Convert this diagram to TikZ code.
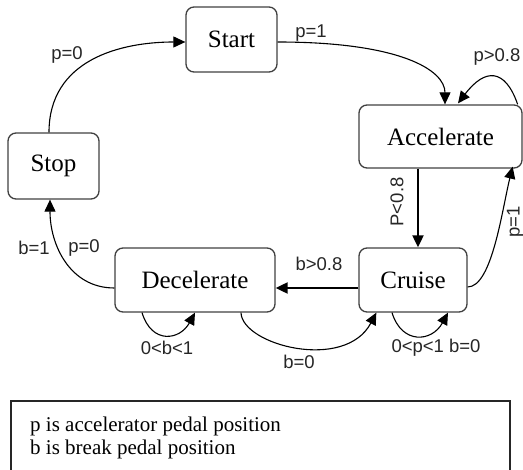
\documentclass[tikz,border=0pt]{standalone}
\usepackage{fontspec}
\setmainfont{Liberation Serif}
\newfontfamily\lab{Liberation Sans}
\usetikzlibrary{arrows.meta,calc}
\begin{document}
\begin{tikzpicture}[x=1pt,y=-1pt,
  state/.style={draw=black!75, line width=1.3pt, rounded corners=8pt,
    font=\fontsize{25}{30}\selectfont, inner sep=0pt},
  lbl/.style={font=\lab\fontsize{18.5}{22}\selectfont, inner sep=0pt, text=black!85},
  tr/.style={line width=1.1pt, -{Triangle[length=12pt,width=11pt]}},
  trb/.style={line width=2pt, -{Triangle[length=12pt,width=11pt]}},
  legtext/.style={font=\fontsize{21}{23}\selectfont, inner sep=0pt, anchor=base west}]
\useasboundingbox (0,0) rectangle (523,470);
% states
\node[state, minimum width=91pt, minimum height=65pt] (start) at (231.5,39.5) {Start};
\node[state, minimum width=91pt, minimum height=66pt] (stop) at (53.5,166) {Stop};
\node[state, minimum width=163pt, minimum height=63pt] (acc) at (440.5,136.5) {Accelerate};
\node[state, minimum width=160pt, minimum height=64pt] (dec) at (195,280) {Decelerate};
\node[state, minimum width=108pt, minimum height=64pt] (cruise) at (413,280) {Cruise};
% transitions
\draw[tr] ($(stop.north)+(-4.5,0)$) .. controls (49,60) and (120,42) .. ($(start.west)+(0,2.5)$);
\draw[tr] ($(start.east)+(0,2.5)$) .. controls (400,42) and (445,70) .. ($(acc.north)+(4.5,0)$);
\draw[tr] ($(acc.north east)+(-5,0)$) .. controls (505,68) and (485,68) .. ($(acc.north)+(17.5,-1)$);
\draw[trb] ($(acc.south)+(-22.5,0)$) -- ($(cruise.north)+(5,0)$);
\draw[tr] ($(cruise.east)+(0,7)$) .. controls (492,287) and (502,210) .. ($(acc.south east)+(-10,-2)$);
\draw[trb] ($(cruise.west)+(0,8)$) -- ($(dec.east)+(0,8)$);
\draw[tr] ($(dec.south)+(46,0)$) .. controls (242,345) and (345,372) .. ($(cruise.south west)+(18,0)$);
\draw[tr] ($(dec.south)+(-53,0)$) .. controls (152,345) and (180,340) .. (dec.south);
\draw[tr] ($(cruise.south)+(-21,0)$) .. controls (402,345) and (432,342) .. ($(cruise.south)+(35,0)$);
\draw[tr] ($(dec.west)+(0,8)$) .. controls (70,288) and (50,245) .. ($(stop.south)+(-3.5,0)$);
% labels
\node[lbl] (l1) at (67,55) {p=0};
\node[lbl] (l2) at (311,33) {p=1};
\node[lbl] (l3) at (497,57) {p>0.8};
\node[lbl, rotate=90] (l4) at (397,202) {P<0.8};
\node[lbl, rotate=90, anchor=base] (l5) at (519.5,222) {p=1};
\node[lbl] (l6) at (319,264) {b>0.8};
\node[lbl] (l7) at (299,362) {b=0};
\node[lbl] (l8) at (167,348) {0<b<1};
\node[lbl] (l9) at (436,348) {0<p<1 b=0};
\node[lbl] (l10) at (34,248) {b=1};
\node[lbl] (l11) at (84,248) {p=0};
% legend
\node[draw=black!85, line width=2pt, anchor=north west, minimum width=499pt, minimum height=90pt, inner sep=0pt] (legend) at (10,400) {};
\node[legtext] (leg1) at (30,432) {p is accelerator pedal position};
\node[legtext] (leg2) at (30,455) {b is break pedal position};
\end{tikzpicture}
\end{document}
